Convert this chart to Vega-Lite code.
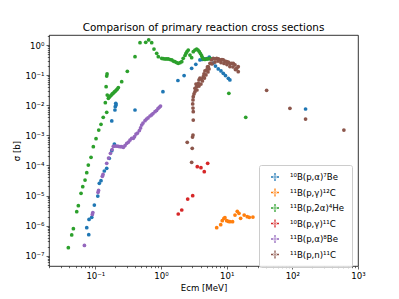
{
  "$schema": "https://vega.github.io/schema/vega-lite/v6.json",
  "autosize": {"type": "none"},
  "width": 309,
  "height": 231,
  "padding": {"left": 49, "top": 35, "right": 41, "bottom": 33},
  "background": "white",
  "config": {
    "font": "DejaVu Sans",
    "view": {"stroke": "#000", "strokeWidth": 0.8},
    "axis": {"grid": false, "domain": false, "tickColor": "#000", "labelColor": "#000", "titleColor": "#000", "labelFont": "DejaVu Sans", "titleFont": "DejaVu Sans", "labelFontSize": 8.6, "titleFontSize": 8.6, "titleFontWeight": "normal", "labelPadding": 2, "tickWidth": 0.6}
  },
  "title": {"text": "Comparison of primary reaction cross sections", "fontSize": 10.4, "fontWeight": "normal", "font": "DejaVu Sans", "color": "#000", "offset": -1, "anchor": "middle"},
  "data": {"values": [
    {"r":"¹⁰B(p,α)⁷Be","e":0.0794,"s":4.99e-7},
    {"r":"¹⁰B(p,α)⁷Be","e":0.0740,"s":8.51e-7},
    {"r":"¹⁰B(p,α)⁷Be","e":0.0802,"s":1.60e-6},
    {"r":"¹⁰B(p,α)⁷Be","e":0.0881,"s":1.89e-6},
    {"r":"¹⁰B(p,α)⁷Be","e":0.0966,"s":4.83e-6},
    {"r":"¹⁰B(p,α)⁷Be","e":0.109,"s":9.62e-6},
    {"r":"¹⁰B(p,α)⁷Be","e":0.115,"s":2.54e-5},
    {"r":"¹⁰B(p,α)⁷Be","e":0.122,"s":3.10e-5},
    {"r":"¹⁰B(p,α)⁷Be","e":0.137,"s":6.52e-5},
    {"r":"¹⁰B(p,α)⁷Be","e":0.149,"s":8.01e-5},
    {"r":"¹⁰B(p,α)⁷Be","e":0.163,"s":1.72e-4},
    {"r":"¹⁰B(p,α)⁷Be","e":0.178,"s":3.08e-4},
    {"r":"¹⁰B(p,α)⁷Be","e":0.195,"s":5.14e-4},
    {"r":"¹⁰B(p,α)⁷Be","e":0.178,"s":2.99e-3},
    {"r":"¹⁰B(p,α)⁷Be","e":0.205,"s":0.0116},
    {"r":"¹⁰B(p,α)⁷Be","e":0.201,"s":8.91e-3},
    {"r":"¹⁰B(p,α)⁷Be","e":0.199,"s":6.93e-3},
    {"r":"¹⁰B(p,α)⁷Be","e":0.207,"s":0.0102},
    {"r":"¹⁰B(p,α)⁷Be","e":0.402,"s":6.93e-3},
    {"r":"¹⁰B(p,α)⁷Be","e":1.07,"s":0.0281},
    {"r":"¹⁰B(p,α)⁷Be","e":1.81,"s":0.0662},
    {"r":"¹⁰B(p,α)⁷Be","e":2.25,"s":0.0970},
    {"r":"¹⁰B(p,α)⁷Be","e":2.93,"s":0.168},
    {"r":"¹⁰B(p,α)⁷Be","e":3.39,"s":0.229},
    {"r":"¹⁰B(p,α)⁷Be","e":3.92,"s":0.318},
    {"r":"¹⁰B(p,α)⁷Be","e":4.28,"s":0.330},
    {"r":"¹⁰B(p,α)⁷Be","e":4.67,"s":0.343},
    {"r":"¹⁰B(p,α)⁷Be","e":5.01,"s":0.356},
    {"r":"¹⁰B(p,α)⁷Be","e":5.43,"s":0.399},
    {"r":"¹⁰B(p,α)⁷Be","e":5.77,"s":0.343},
    {"r":"¹⁰B(p,α)⁷Be","e":6.25,"s":0.252},
    {"r":"¹⁰B(p,α)⁷Be","e":6.76,"s":0.200},
    {"r":"¹⁰B(p,α)⁷Be","e":7.45,"s":0.160},
    {"r":"¹⁰B(p,α)⁷Be","e":8.19,"s":0.137},
    {"r":"¹⁰B(p,α)⁷Be","e":8.88,"s":0.115},
    {"r":"¹⁰B(p,α)⁷Be","e":9.59,"s":0.0970},
    {"r":"¹⁰B(p,α)⁷Be","e":10.6,"s":0.0783},
    {"r":"¹⁰B(p,α)⁷Be","e":11.2,"s":0.0688},
    {"r":"¹⁰B(p,α)⁷Be","e":159,"s":7.48e-3},
    {"r":"¹¹B(p,γ)¹²C","e":7.05,"s":8.51e-7},
    {"r":"¹¹B(p,γ)¹²C","e":8.11,"s":1.07e-6},
    {"r":"¹¹B(p,γ)¹²C","e":8.57,"s":1.46e-6},
    {"r":"¹¹B(p,γ)¹²C","e":9.10,"s":1.75e-6},
    {"r":"¹¹B(p,γ)¹²C","e":9.42,"s":1.83e-6},
    {"r":"¹¹B(p,γ)¹²C","e":10.0,"s":1.46e-6},
    {"r":"¹¹B(p,γ)¹²C","e":10.6,"s":1.37e-6},
    {"r":"¹¹B(p,γ)¹²C","e":11.2,"s":1.35e-6},
    {"r":"¹¹B(p,γ)¹²C","e":12.3,"s":1.35e-6},
    {"r":"¹¹B(p,γ)¹²C","e":13.4,"s":2.25e-6},
    {"r":"¹¹B(p,γ)¹²C","e":14.5,"s":2.99e-6},
    {"r":"¹¹B(p,γ)¹²C","e":15.4,"s":2.56e-6},
    {"r":"¹¹B(p,γ)¹²C","e":16.3,"s":1.75e-6},
    {"r":"¹¹B(p,γ)¹²C","e":18.5,"s":2.25e-6},
    {"r":"¹¹B(p,γ)¹²C","e":20.6,"s":1.98e-6},
    {"r":"¹¹B(p,γ)¹²C","e":22.1,"s":1.89e-6},
    {"r":"¹¹B(p,γ)¹²C","e":25.1,"s":1.93e-6},
    {"r":"¹¹B(p,2α)⁴He","e":0.0388,"s":1.85e-7},
    {"r":"¹¹B(p,2α)⁴He","e":0.0437,"s":4.88e-7},
    {"r":"¹¹B(p,2α)⁴He","e":0.0463,"s":7.89e-7},
    {"r":"¹¹B(p,2α)⁴He","e":0.0521,"s":2.90e-6},
    {"r":"¹¹B(p,2α)⁴He","e":0.0551,"s":4.58e-6},
    {"r":"¹¹B(p,2α)⁴He","e":0.0606,"s":1.18e-5},
    {"r":"¹¹B(p,2α)⁴He","e":0.0643,"s":1.96e-5},
    {"r":"¹¹B(p,2α)⁴He","e":0.0697,"s":3.27e-5},
    {"r":"¹¹B(p,2α)⁴He","e":0.0740,"s":5.72e-5},
    {"r":"¹¹B(p,2α)⁴He","e":0.0782,"s":1.03e-4},
    {"r":"¹¹B(p,2α)⁴He","e":0.0860,"s":1.86e-4},
    {"r":"¹¹B(p,2α)⁴He","e":0.0932,"s":4.18e-4},
    {"r":"¹¹B(p,2α)⁴He","e":0.1025,"s":7.71e-4},
    {"r":"¹¹B(p,2α)⁴He","e":0.1127,"s":1.50e-3},
    {"r":"¹¹B(p,2α)⁴He","e":0.122,"s":2.32e-3},
    {"r":"¹¹B(p,2α)⁴He","e":0.132,"s":3.96e-3},
    {"r":"¹¹B(p,2α)⁴He","e":0.149,"s":5.81e-3},
    {"r":"¹¹B(p,2α)⁴He","e":0.142,"s":0.0121},
    {"r":"¹¹B(p,2α)⁴He","e":0.152,"s":0.0218},
    {"r":"¹¹B(p,2α)⁴He","e":0.146,"s":0.0412},
    {"r":"¹¹B(p,2α)⁴He","e":0.149,"s":0.0933},
    {"r":"¹¹B(p,2α)⁴He","e":0.151,"s":0.109},
    {"r":"¹¹B(p,2α)⁴He","e":0.158,"s":0.0170},
    {"r":"¹¹B(p,2α)⁴He","e":0.163,"s":0.0187},
    {"r":"¹¹B(p,2α)⁴He","e":0.169,"s":0.0202},
    {"r":"¹¹B(p,2α)⁴He","e":0.175,"s":0.0218},
    {"r":"¹¹B(p,2α)⁴He","e":0.181,"s":0.0236},
    {"r":"¹¹B(p,2α)⁴He","e":0.188,"s":0.0254},
    {"r":"¹¹B(p,2α)⁴He","e":0.195,"s":0.0275},
    {"r":"¹¹B(p,2α)⁴He","e":0.202,"s":0.0296},
    {"r":"¹¹B(p,2α)⁴He","e":0.209,"s":0.0320},
    {"r":"¹¹B(p,2α)⁴He","e":0.216,"s":0.0345},
    {"r":"¹¹B(p,2α)⁴He","e":0.224,"s":0.0387},
    {"r":"¹¹B(p,2α)⁴He","e":0.252,"s":0.0604},
    {"r":"¹¹B(p,2α)⁴He","e":0.307,"s":0.134},
    {"r":"¹¹B(p,2α)⁴He","e":0.402,"s":0.409},
    {"r":"¹¹B(p,2α)⁴He","e":0.479,"s":1.19},
    {"r":"¹¹B(p,2α)⁴He","e":0.585,"s":1.23},
    {"r":"¹¹B(p,2α)⁴He","e":0.650,"s":1.47},
    {"r":"¹¹B(p,2α)⁴He","e":0.722,"s":1.19},
    {"r":"¹¹B(p,2α)⁴He","e":0.782,"s":0.736},
    {"r":"¹¹B(p,2α)⁴He","e":0.860,"s":0.530},
    {"r":"¹¹B(p,2α)⁴He","e":0.910,"s":0.409},
    {"r":"¹¹B(p,2α)⁴He","e":1.025,"s":0.361},
    {"r":"¹¹B(p,2α)⁴He","e":1.08,"s":0.350},
    {"r":"¹¹B(p,2α)⁴He","e":1.15,"s":0.343},
    {"r":"¹¹B(p,2α)⁴He","e":1.22,"s":0.343},
    {"r":"¹¹B(p,2α)⁴He","e":1.29,"s":0.343},
    {"r":"¹¹B(p,2α)⁴He","e":1.37,"s":0.330},
    {"r":"¹¹B(p,2α)⁴He","e":1.46,"s":0.318},
    {"r":"¹¹B(p,2α)⁴He","e":1.54,"s":0.294},
    {"r":"¹¹B(p,2α)⁴He","e":1.63,"s":0.279},
    {"r":"¹¹B(p,2α)⁴He","e":1.73,"s":0.262},
    {"r":"¹¹B(p,2α)⁴He","e":1.83,"s":0.247},
    {"r":"¹¹B(p,2α)⁴He","e":1.95,"s":0.258},
    {"r":"¹¹B(p,2α)⁴He","e":2.07,"s":0.279},
    {"r":"¹¹B(p,2α)⁴He","e":2.18,"s":0.361},
    {"r":"¹¹B(p,2α)⁴He","e":2.32,"s":0.448},
    {"r":"¹¹B(p,2α)⁴He","e":2.40,"s":0.530},
    {"r":"¹¹B(p,2α)⁴He","e":2.49,"s":0.608},
    {"r":"¹¹B(p,2α)⁴He","e":2.60,"s":0.682},
    {"r":"¹¹B(p,2α)⁴He","e":2.76,"s":0.465},
    {"r":"¹¹B(p,2α)⁴He","e":2.93,"s":0.379},
    {"r":"¹¹B(p,2α)⁴He","e":3.10,"s":0.599},
    {"r":"¹¹B(p,2α)⁴He","e":3.29,"s":0.682},
    {"r":"¹¹B(p,2α)⁴He","e":3.49,"s":0.736},
    {"r":"¹¹B(p,2α)⁴He","e":3.66,"s":0.682},
    {"r":"¹¹B(p,2α)⁴He","e":3.83,"s":0.599},
    {"r":"¹¹B(p,2α)⁴He","e":3.99,"s":0.522},
    {"r":"¹¹B(p,2α)⁴He","e":4.16,"s":0.441},
    {"r":"¹¹B(p,2α)⁴He","e":4.28,"s":0.384},
    {"r":"¹¹B(p,2α)⁴He","e":4.40,"s":0.343},
    {"r":"¹¹B(p,2α)⁴He","e":4.67,"s":0.330},
    {"r":"¹¹B(p,2α)⁴He","e":4.96,"s":0.343},
    {"r":"¹¹B(p,2α)⁴He","e":5.25,"s":0.343},
    {"r":"¹¹B(p,2α)⁴He","e":5.57,"s":0.361},
    {"r":"¹¹B(p,2α)⁴He","e":10.8,"s":0.0249},
    {"r":"¹¹B(p,2α)⁴He","e":19.5,"s":3.96e-3},
    {"r":"¹⁰B(p,γ)¹¹C","e":1.83,"s":2.43e-6},
    {"r":"¹⁰B(p,γ)¹¹C","e":2.07,"s":3.30e-6},
    {"r":"¹⁰B(p,γ)¹¹C","e":2.55,"s":7.65e-6},
    {"r":"¹⁰B(p,γ)¹¹C","e":3.04,"s":9.85e-6},
    {"r":"¹⁰B(p,γ)¹¹C","e":3.57,"s":9.05e-5},
    {"r":"¹⁰B(p,γ)¹¹C","e":4.06,"s":8.39e-5},
    {"r":"¹⁰B(p,γ)¹¹C","e":4.56,"s":6.18e-5},
    {"r":"¹⁰B(p,γ)¹¹C","e":5.14,"s":1.17e-4},
    {"r":"¹¹B(p,α)⁸Be","e":0.0682,"s":2.20e-7},
    {"r":"¹¹B(p,α)⁸Be","e":0.0900,"s":2.34e-6},
    {"r":"¹¹B(p,α)⁸Be","e":0.0916,"s":2.72e-6},
    {"r":"¹¹B(p,α)⁸Be","e":0.110,"s":1.28e-5},
    {"r":"¹¹B(p,α)⁸Be","e":0.112,"s":1.47e-5},
    {"r":"¹¹B(p,α)⁸Be","e":0.128,"s":4.35e-5},
    {"r":"¹¹B(p,α)⁸Be","e":0.131,"s":4.99e-5},
    {"r":"¹¹B(p,α)⁸Be","e":0.149,"s":1.17e-4},
    {"r":"¹¹B(p,α)⁸Be","e":0.159,"s":1.76e-4},
    {"r":"¹¹B(p,α)⁸Be","e":0.170,"s":2.52e-4},
    {"r":"¹¹B(p,α)⁸Be","e":0.180,"s":3.37e-4},
    {"r":"¹¹B(p,α)⁸Be","e":0.188,"s":4.31e-4},
    {"r":"¹¹B(p,α)⁸Be","e":0.199,"s":4.41e-4},
    {"r":"¹¹B(p,α)⁸Be","e":0.212,"s":4.41e-4},
    {"r":"¹¹B(p,α)⁸Be","e":0.224,"s":4.31e-4},
    {"r":"¹¹B(p,α)⁸Be","e":0.238,"s":4.18e-4},
    {"r":"¹¹B(p,α)⁸Be","e":0.252,"s":4.18e-4},
    {"r":"¹¹B(p,α)⁸Be","e":0.267,"s":3.99e-4},
    {"r":"¹¹B(p,α)⁸Be","e":0.283,"s":4.58e-4},
    {"r":"¹¹B(p,α)⁸Be","e":0.301,"s":5.42e-4},
    {"r":"¹¹B(p,α)⁸Be","e":0.320,"s":5.99e-4},
    {"r":"¹¹B(p,α)⁸Be","e":0.337,"s":6.98e-4},
    {"r":"¹¹B(p,α)⁸Be","e":0.358,"s":7.94e-4},
    {"r":"¹¹B(p,α)⁸Be","e":0.379,"s":7.94e-4},
    {"r":"¹¹B(p,α)⁸Be","e":0.395,"s":9.12e-4},
    {"r":"¹¹B(p,α)⁸Be","e":0.416,"s":1.10e-3},
    {"r":"¹¹B(p,α)⁸Be","e":0.439,"s":1.19e-3},
    {"r":"¹¹B(p,α)⁸Be","e":0.468,"s":1.44e-3},
    {"r":"¹¹B(p,α)⁸Be","e":0.488,"s":1.75e-3},
    {"r":"¹¹B(p,α)⁸Be","e":0.508,"s":2.20e-3},
    {"r":"¹¹B(p,α)⁸Be","e":0.532,"s":2.56e-3},
    {"r":"¹¹B(p,α)⁸Be","e":0.571,"s":3.06e-3},
    {"r":"¹¹B(p,α)⁸Be","e":0.601,"s":3.48e-3},
    {"r":"¹¹B(p,α)⁸Be","e":0.634,"s":3.76e-3},
    {"r":"¹¹B(p,α)⁸Be","e":0.680,"s":4.38e-3},
    {"r":"¹¹B(p,α)⁸Be","e":0.717,"s":4.73e-3},
    {"r":"¹¹B(p,α)⁸Be","e":0.755,"s":5.30e-3},
    {"r":"¹¹B(p,α)⁸Be","e":0.811,"s":6.08e-3},
    {"r":"¹¹B(p,α)⁸Be","e":0.855,"s":6.67e-3},
    {"r":"¹¹B(p,α)⁸Be","e":0.900,"s":7.77e-3},
    {"r":"¹¹B(p,α)⁸Be","e":0.942,"s":8.51e-3},
    {"r":"¹¹B(p,α)⁸Be","e":0.983,"s":9.40e-3},
    {"r":"¹¹B(p,n)¹¹C","e":2.51,"s":5.85e-4},
    {"r":"¹¹B(p,n)¹¹C","e":2.99,"s":3.70e-4},
    {"r":"¹¹B(p,n)¹¹C","e":3.02,"s":8.78e-4},
    {"r":"¹¹B(p,n)¹¹C","e":3.07,"s":1.02e-3},
    {"r":"¹¹B(p,n)¹¹C","e":2.93,"s":1.27e-4},
    {"r":"¹¹B(p,n)¹¹C","e":3.10,"s":3.22e-3},
    {"r":"¹¹B(p,n)¹¹C","e":3.10,"s":6.08e-3},
    {"r":"¹¹B(p,n)¹¹C","e":3.07,"s":8.07e-3},
    {"r":"¹¹B(p,n)¹¹C","e":3.04,"s":0.0110},
    {"r":"¹¹B(p,n)¹¹C","e":3.07,"s":0.0149},
    {"r":"¹¹B(p,n)¹¹C","e":3.10,"s":0.0192},
    {"r":"¹¹B(p,n)¹¹C","e":3.18,"s":0.0236},
    {"r":"¹¹B(p,n)¹¹C","e":3.29,"s":0.0281},
    {"r":"¹¹B(p,n)¹¹C","e":3.29,"s":0.0364},
    {"r":"¹¹B(p,n)¹¹C","e":3.49,"s":0.0412},
    {"r":"¹¹B(p,n)¹¹C","e":3.41,"s":0.0506},
    {"r":"¹¹B(p,n)¹¹C","e":3.70,"s":0.0534},
    {"r":"¹¹B(p,n)¹¹C","e":3.79,"s":0.0688},
    {"r":"¹¹B(p,n)¹¹C","e":3.92,"s":0.0801},
    {"r":"¹¹B(p,n)¹¹C","e":4.13,"s":0.0742},
    {"r":"¹¹B(p,n)¹¹C","e":4.40,"s":0.0885},
    {"r":"¹¹B(p,n)¹¹C","e":4.51,"s":0.109},
    {"r":"¹¹B(p,n)¹¹C","e":4.67,"s":0.137},
    {"r":"¹¹B(p,n)¹¹C","e":4.96,"s":0.148},
    {"r":"¹¹B(p,n)¹¹C","e":5.10,"s":0.186},
    {"r":"¹¹B(p,n)¹¹C","e":5.25,"s":0.190},
    {"r":"¹¹B(p,n)¹¹C","e":5.57,"s":0.247},
    {"r":"¹¹B(p,n)¹¹C","e":5.91,"s":0.318},
    {"r":"¹¹B(p,n)¹¹C","e":6.25,"s":0.361},
    {"r":"¹¹B(p,n)¹¹C","e":6.64,"s":0.343},
    {"r":"¹¹B(p,n)¹¹C","e":7.05,"s":0.361},
    {"r":"¹¹B(p,n)¹¹C","e":7.50,"s":0.343},
    {"r":"¹¹B(p,n)¹¹C","e":7.91,"s":0.318},
    {"r":"¹¹B(p,n)¹¹C","e":8.48,"s":0.330},
    {"r":"¹¹B(p,n)¹¹C","e":8.88,"s":0.318},
    {"r":"¹¹B(p,n)¹¹C","e":9.42,"s":0.294},
    {"r":"¹¹B(p,n)¹¹C","e":10.0,"s":0.279},
    {"r":"¹¹B(p,n)¹¹C","e":10.6,"s":0.272},
    {"r":"¹¹B(p,n)¹¹C","e":11.2,"s":0.247},
    {"r":"¹¹B(p,n)¹¹C","e":11.9,"s":0.247},
    {"r":"¹¹B(p,n)¹¹C","e":12.6,"s":0.247},
    {"r":"¹¹B(p,n)¹¹C","e":13.4,"s":0.217},
    {"r":"¹¹B(p,n)¹¹C","e":14.2,"s":0.168},
    {"r":"¹¹B(p,n)¹¹C","e":15.0,"s":0.190},
    {"r":"¹¹B(p,n)¹¹C","e":15.0,"s":0.130},
    {"r":"¹¹B(p,n)¹¹C","e":3.53,"s":0.0320},
    {"r":"¹¹B(p,n)¹¹C","e":3.79,"s":0.0434},
    {"r":"¹¹B(p,n)¹¹C","e":4.06,"s":0.0506},
    {"r":"¹¹B(p,n)¹¹C","e":4.28,"s":0.0637},
    {"r":"¹¹B(p,n)¹¹C","e":4.59,"s":0.0801},
    {"r":"¹¹B(p,n)¹¹C","e":4.84,"s":0.101},
    {"r":"¹¹B(p,n)¹¹C","e":5.19,"s":0.127},
    {"r":"¹¹B(p,n)¹¹C","e":5.38,"s":0.160},
    {"r":"¹¹B(p,n)¹¹C","e":5.97,"s":0.234},
    {"r":"¹¹B(p,n)¹¹C","e":6.64,"s":0.272},
    {"r":"¹¹B(p,n)¹¹C","e":7.38,"s":0.294},
    {"r":"¹¹B(p,n)¹¹C","e":8.19,"s":0.262},
    {"r":"¹¹B(p,n)¹¹C","e":9.10,"s":0.243},
    {"r":"¹¹B(p,n)¹¹C","e":10.1,"s":0.225},
    {"r":"¹¹B(p,n)¹¹C","e":11.2,"s":0.193},
    {"r":"¹¹B(p,n)¹¹C","e":12.5,"s":0.186},
    {"r":"¹¹B(p,n)¹¹C","e":13.6,"s":0.153},
    {"r":"¹¹B(p,n)¹¹C","e":40.6,"s":0.0313},
    {"r":"¹¹B(p,n)¹¹C","e":91.9,"s":7.89e-3},
    {"r":"¹¹B(p,n)¹¹C","e":159,"s":3.48e-3},
    {"r":"¹¹B(p,n)¹¹C","e":610,"s":1.50e-3}
  ]},
  "mark": {"type": "point", "filled": true, "size": 14, "opacity": 1, "clip": true},
  "encoding": {
    "x": {"field": "e", "type": "quantitative", "scale": {"type": "log", "domain": [0.0197, 1000], "nice": false},
      "axis": {"title": "Ecm [MeV]", "titlePadding": 4,
        "values": [0.02,0.03,0.04,0.05,0.06,0.07,0.08,0.09,0.1,0.2,0.3,0.4,0.5,0.6,0.7,0.8,0.9,1,2,3,4,5,6,7,8,9,10,20,30,40,50,60,70,80,90,100,200,300,400,500,600,700,800,900,1000],
        "labelExpr": "abs(log(datum.value)/LN10 - round(log(datum.value)/LN10)) < 0.01 ? '10' + (round(log(datum.value)/LN10) < 0 ? '⁻' : '') + ['⁰','¹','²','³','⁴','⁵','⁶','⁷','⁸','⁹'][abs(round(log(datum.value)/LN10))] : ''",
        "tickSize": {"condition": {"test": "abs(log(datum.value)/LN10 - round(log(datum.value)/LN10)) < 0.01", "value": 3}, "value": 1.7},
        "labelFlush": false, "labelOverlap": false}},
    "y": {"field": "s", "type": "quantitative", "scale": {"type": "log", "domain": [4.55e-8, 2.15], "nice": false},
      "axis": {"title": "σ [b]", "titlePadding": 4,
        "values": [5e-8,6e-8,7e-8,8e-8,9e-8,1e-7,2e-7,3e-7,4e-7,5e-7,6e-7,7e-7,8e-7,9e-7,1e-6,2e-6,3e-6,4e-6,5e-6,6e-6,7e-6,8e-6,9e-6,1e-5,2e-5,3e-5,4e-5,5e-5,6e-5,7e-5,8e-5,9e-5,1e-4,2e-4,3e-4,4e-4,5e-4,6e-4,7e-4,8e-4,9e-4,1e-3,2e-3,3e-3,4e-3,5e-3,6e-3,7e-3,8e-3,9e-3,0.01,0.02,0.03,0.04,0.05,0.06,0.07,0.08,0.09,0.1,0.2,0.3,0.4,0.5,0.6,0.7,0.8,0.9,1,2],
        "labelExpr": "abs(log(datum.value)/LN10 - round(log(datum.value)/LN10)) < 0.01 ? '10' + (round(log(datum.value)/LN10) < 0 ? '⁻' : '') + ['⁰','¹','²','³','⁴','⁵','⁶','⁷','⁸','⁹'][abs(round(log(datum.value)/LN10))] : ''",
        "tickSize": {"condition": {"test": "abs(log(datum.value)/LN10 - round(log(datum.value)/LN10)) < 0.01", "value": 3}, "value": 1.7},
        "labelFlush": false, "labelOverlap": false}},
    "color": {"field": "r", "type": "nominal", "sort": null,
      "scale": {"domain": ["¹⁰B(p,α)⁷Be","¹¹B(p,γ)¹²C","¹¹B(p,2α)⁴He","¹⁰B(p,γ)¹¹C","¹¹B(p,α)⁸Be","¹¹B(p,n)¹¹C"],
        "range": ["#1f77b4","#ff7f0e","#2ca02c","#d62728","#9467bd","#8c564b"]},
      "legend": {"title": null, "orient": "none", "legendX": 210, "legendY": 130,
        "padding": 7, "fillColor": "rgba(255,255,255,0.8)", "strokeColor": "#cccccc", "cornerRadius": 2,
        "labelFontSize": 8.6, "labelFont": "DejaVu Sans", "labelColor": "#000", "rowPadding": 5.5, "labelOffset": 10, "symbolOffset": 4,
        "symbolType": "M-1,-0.16H1V0.16H-1ZM-0.16,-1H0.16V1H-0.16ZM-0.45,0A0.45,0.45 0 1,0 0.45,0A0.45,0.45 0 1,0 -0.45,0Z",
        "symbolSize": 64,
        "encode": {"symbols": {"update": {"shape": {"value": "M-1,-0.16H1V0.16H-1ZM-0.16,-1H0.16V1H-0.16ZM-0.45,0A0.45,0.45 0 1,0 0.45,0A0.45,0.45 0 1,0 -0.45,0Z"}, "size": {"value": 64}, "opacity": {"value": 1}}}}}}
  }
}
